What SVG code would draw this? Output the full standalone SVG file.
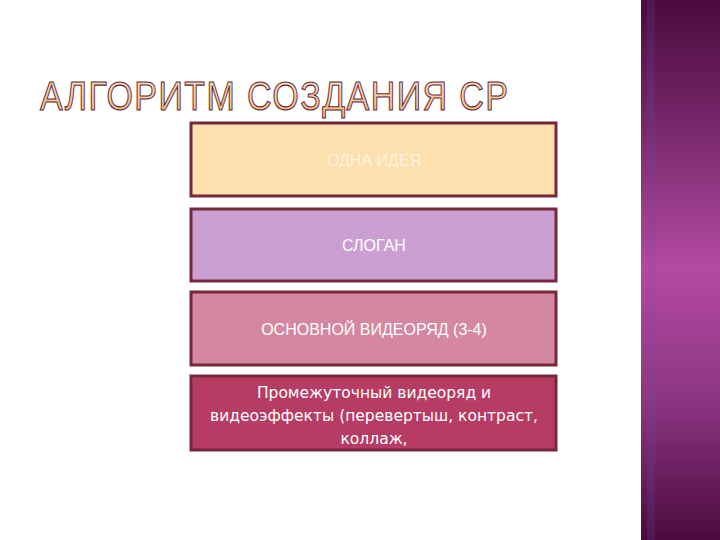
<svg xmlns="http://www.w3.org/2000/svg" width="720" height="540" viewBox="0 0 720 540">
<defs>
<linearGradient id="side" x1="0" y1="0" x2="0" y2="1">
<stop offset="0" stop-color="#4a0a3e"/>
<stop offset="0.25" stop-color="#7a2a6e"/>
<stop offset="0.5" stop-color="#b44aa2"/>
<stop offset="0.75" stop-color="#8a3480"/>
<stop offset="1" stop-color="#4a0a3e"/>
</linearGradient>
<linearGradient id="ttl" x1="0" y1="0" x2="0" y2="1">
<stop offset="0" stop-color="#fbe3c8"/>
<stop offset="1" stop-color="#f4b27a"/>
</linearGradient>
<style>
.box{stroke:#74283c;stroke-width:3}
.lbl{font-family:"Liberation Sans",Arial,sans-serif;font-size:16px;fill:#ffffff;text-anchor:middle}
.lbl2{font-family:"DejaVu Sans",sans-serif;font-size:15.5px;fill:#ffffff;text-anchor:middle}
</style>
</defs>
<rect width="720" height="540" fill="#ffffff"/>
<g id="sidebar">
<rect x="641" y="0" width="79" height="540" fill="url(#side)"/>
<rect x="647" y="0" width="8" height="540" fill="#7050a0" opacity="0.18"/>
</g>
<g id="title" transform="translate(0,110) scale(1,1.22)">
<text x="40" y="0" textLength="468" lengthAdjust="spacing" font-family="'Liberation Sans',Arial,sans-serif" font-size="34" fill="url(#ttl)" stroke="#5a2a3a" stroke-width="0.9">АЛГОРИТМ СОЗДАНИЯ СР</text>
</g>
<g id="box1">
<rect class="box" x="191" y="123" width="365" height="73" fill="#fde0ae"/>
<text class="lbl" x="374" y="166" style="fill:#fff4e0">ОДНА ИДЕЯ</text>
</g>
<g id="box2">
<rect class="box" x="191" y="209" width="365" height="72" fill="#cb9fd1"/>
<text class="lbl" x="374" y="251">СЛОГАН</text>
</g>
<g id="box3">
<rect class="box" x="191" y="292" width="365" height="73" fill="#d4879f"/>
<text class="lbl" x="374" y="335">ОСНОВНОЙ ВИДЕОРЯД (3-4)</text>
</g>
<g id="box4">
<rect class="box" x="191" y="376" width="365" height="74" fill="#b73c64"/>
<text class="lbl2" x="374" y="398">Промежуточный видеоряд и</text>
<text class="lbl2" x="374" y="421">видеоэффекты (перевертыш, контраст,</text>
<text class="lbl2" x="374" y="444">коллаж,</text>
</g>
<g id="connectors"/>
</svg>
